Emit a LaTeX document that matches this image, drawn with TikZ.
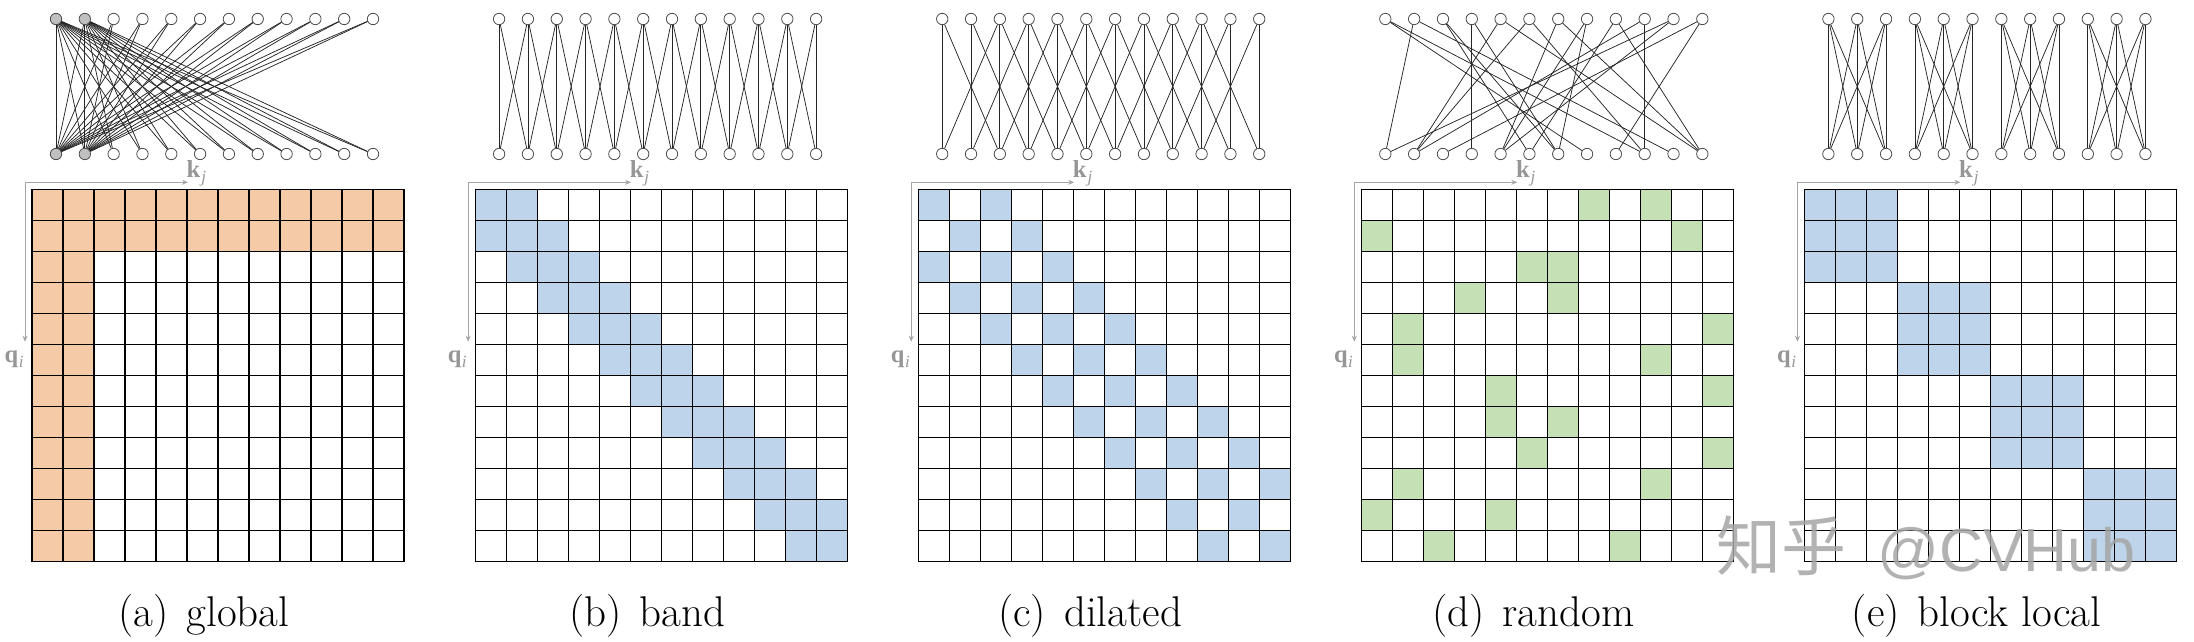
\documentclass[tikz,border=0pt]{standalone}
\usepackage{fontspec}
\newfontfamily\cjkfont{Noto Sans CJK SC}
\newfontfamily\wmfont{Liberation Sans}
\newfontfamily\labfont{Liberation Serif}
\usetikzlibrary{arrows.meta}
\definecolor{peach}{RGB}{245,203,167}
\definecolor{lblue}{RGB}{189,212,234}
\definecolor{lgreen}{RGB}{197,224,180}
\definecolor{axisgray}{RGB}{165,165,165}
\definecolor{labgray}{RGB}{150,150,150}
\definecolor{nodegray}{RGB}{192,192,192}
\definecolor{wmgray}{RGB}{165,165,165}

\newcommand\cellfill[4]{%
  \fill[#4] ({#1+31*#3},{189.3+31*#2}) rectangle ++(31,31);}

\newcommand\subidx[1]{\raisebox{-0.22em}{\fontsize{17}{17}\selectfont\itshape #1}}

\newcommand\panelframe[3]{%
  \foreach \m in {0,...,12}{
    \draw[gridline] ({#2+31*\m},189.3) -- ({#2+31*\m},561.3);
    \draw[gridline] (#2,{189.3+31*\m}) -- ({#2+372},{189.3+31*\m});
  }
  \coordinate (kx#1) at ({#2+156},182.3);
  \coordinate (co#1) at ({#2-7},182.3);
  \coordinate (qy#1) at ({#2-7},341.7);
  \draw[axisline] (kx#1) -- (co#1) -- (qy#1);
  \node[axislabel,anchor=base west] (k#1) at ({#2+154.5},177) {\textbf{k}\hspace{1pt}\subidx{j}};
  \node[axislabel,anchor=base west] (q#1) at ({#2-27.5},362) {\textbf{q}\hspace{0.5pt}\subidx{i}};
  \node[captext,anchor=base] (cap#1) at ({#2+172},626) {#3};
}

\newcommand\panelnodes[2]{%
  \foreach \k in {0,...,11}{
    \node[vtx] (t#1-\k) at ({#2+24+28.82*\k},19) {};
    \node[vtx] (b#1-\k) at ({#2+24+28.82*\k},154) {};
  }}

\begin{document}
\begin{tikzpicture}[x=1pt,y=-1pt,
  vtx/.style={circle,draw=black!70,fill=white,line width=0.8pt,minimum size=11.4pt,inner sep=0pt},
  hub/.style={vtx,fill=nodegray},
  link/.style={line width=0.75pt,draw=black!85},
  gridline/.style={line width=1.2pt,draw=black,line cap=rect},
  axisline/.style={line width=1pt,draw=axisgray,arrows={Stealth[length=6pt,width=5pt,inset=2pt]-Stealth[length=6pt,width=5pt,inset=2pt]}},
  axislabel/.style={text=labgray,inner sep=0pt,font=\labfont\fontsize{24.5}{28}\selectfont},
  captext/.style={inner sep=0pt,font=\fontsize{43}{50}\selectfont},
]
\useasboundingbox (0,0) rectangle (2194,642);

% ---------------- (a) global ----------------
\foreach \i in {0,...,11}{\foreach \j in {0,...,11}{
  \pgfmathtruncatemacro\mn{min(\i,\j)}
  \ifnum\mn<2 \cellfill{32}{\i}{\j}{peach}\fi}}
\panelframe{a}{32}{(a)\hspace{0.42em}global}
\foreach \k in {0,1}{
  \node[hub] (ta-\k) at ({32+24+28.82*\k},19) {};
  \node[hub] (ba-\k) at ({32+24+28.82*\k},154) {};}
\foreach \k in {2,...,11}{
  \node[vtx] (ta-\k) at ({32+24+28.82*\k},19) {};
  \node[vtx] (ba-\k) at ({32+24+28.82*\k},154) {};}
\foreach \i in {0,...,11}{\foreach \j in {0,...,11}{
  \pgfmathtruncatemacro\mn{min(\i,\j)}
  \ifnum\mn<2 \draw[link] (ta-\i) -- (ba-\j);\fi}}

% ---------------- (b) band ----------------
\foreach \i in {0,...,11}{\foreach \j in {0,...,11}{
  \pgfmathtruncatemacro\d{abs(\i-\j)}
  \ifnum\d<2 \cellfill{475.1}{\i}{\j}{lblue}\fi}}
\panelframe{b}{475.1}{(b)\hspace{0.42em}band}
\panelnodes{b}{475.1}
\foreach \i in {0,...,11}{\foreach \j in {0,...,11}{
  \pgfmathtruncatemacro\d{abs(\i-\j)}
  \ifnum\d<2 \draw[link] (tb-\i) -- (bb-\j);\fi}}

% ---------------- (c) dilated ----------------
\foreach \i in {0,...,11}{\foreach \j in {0,...,11}{
  \pgfmathtruncatemacro\d{abs(\i-\j)}
  \ifnum\d<3 \ifodd\d\else \cellfill{918.2}{\i}{\j}{lblue}\fi\fi}}
\panelframe{c}{918.2}{(c)\hspace{0.42em}dilated}
\panelnodes{c}{918.2}
\foreach \i in {0,...,11}{\foreach \j in {0,...,11}{
  \pgfmathtruncatemacro\d{abs(\i-\j)}
  \ifnum\d<3 \ifodd\d\else \draw[link] (tc-\i) -- (bc-\j);\fi\fi}}

% ---------------- (d) random ----------------
\foreach \i/\j in {0/7,0/9,1/0,1/10,2/5,2/6,3/3,3/6,4/1,4/11,5/1,5/9,6/4,6/11,7/4,7/6,8/5,8/11,9/1,9/9,10/0,10/4,11/2,11/8}{
  \cellfill{1361.3}{\i}{\j}{lgreen}}
\panelframe{d}{1361.3}{(d)\hspace{0.42em}random}
\panelnodes{d}{1361.3}
\foreach \i/\j in {0/7,0/9,1/0,1/10,2/5,2/6,3/3,3/6,4/1,4/11,5/1,5/9,6/4,6/11,7/4,7/6,8/5,8/11,9/1,9/9,10/0,10/4,11/2,11/8}{
  \draw[link] (td-\i) -- (bd-\j);}

% ---------------- (e) block local ----------------
\foreach \i in {0,...,11}{\foreach \j in {0,...,11}{
  \pgfmathtruncatemacro\bi{int(\i/3)}
  \pgfmathtruncatemacro\bj{int(\j/3)}
  \ifnum\bi=\bj \cellfill{1804.4}{\i}{\j}{lblue}\fi}}
\panelframe{e}{1804.4}{(e)\hspace{0.42em}block local}
\panelnodes{e}{1804.4}
\foreach \i in {0,...,11}{\foreach \j in {0,...,11}{
  \pgfmathtruncatemacro\bi{int(\i/3)}
  \pgfmathtruncatemacro\bj{int(\j/3)}
  \ifnum\bi=\bj \draw[link] (te-\i) -- (be-\j);\fi}}

% ---------------- watermark ----------------
\node[anchor=base west,inner sep=0pt,text=wmgray,opacity=0.85,font=\cjkfont\fontsize{65}{65}\selectfont] (wm1) at (1716,570) {知乎};
\node[anchor=base west,inner sep=0pt,text=wmgray,opacity=0.85,font=\wmfont\fontsize{61}{61}\selectfont] (wm2) at (1877,571) {@CVHub};
\end{tikzpicture}
\end{document}
